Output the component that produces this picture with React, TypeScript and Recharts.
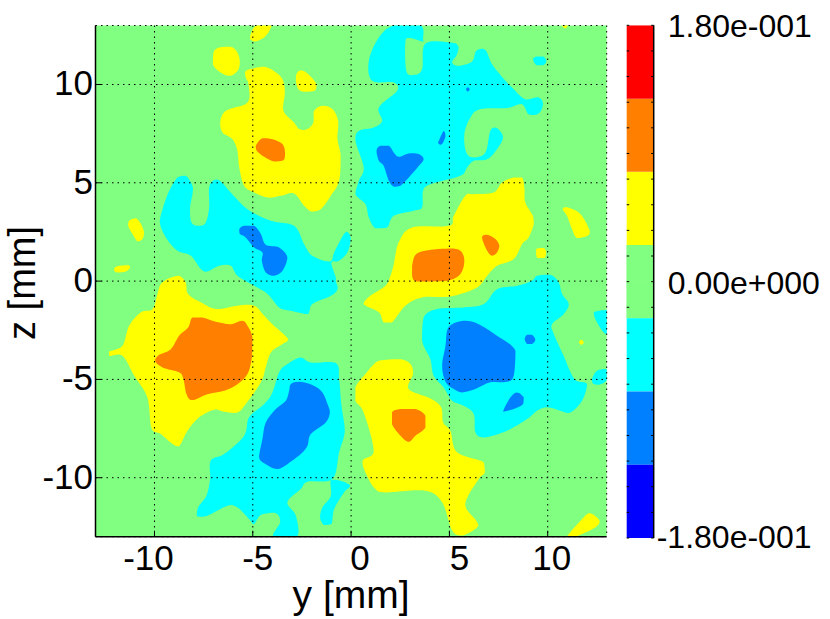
import React from 'react';
import { ScatterChart, BarChart, Bar, Scatter, XAxis, YAxis, CartesianGrid, ReferenceArea } from 'recharts';

type P = [number, number];
const FONT = '"Liberation Sans", Arial, sans-serif';
const YELLOW = '#ffff00', ORANGE = '#ff8000', CYAN = '#00ffff', AZURE = '#0080ff', GREEN = '#80ff80';

const axisTicks = [-10, -5, 0, 5, 10];
const colorStepUp = [0.0257, 0.0514, 0.0514, 0.0515];
const colorStepDown = [-0.0257, -0.0514, -0.0514, -0.0515];
const colorsUp = [GREEN, YELLOW, ORANGE, '#ff0000'];
const colorsDown = [GREEN, CYAN, AZURE, '#0000ff'];
const colorTicks = [-0.18, -0.162, -0.144, -0.126, -0.108, -0.09, -0.072, -0.054, -0.036, -0.018, 0, 0.018, 0.036, 0.054, 0.072, 0.09, 0.108, 0.126, 0.144, 0.162, 0.18];
const colorLabels: Record<string, string> = { '-0.18': '-1.80e-001', '0': '0.00e+000', '0.18': '1.80e-001' };

const yellowTop: P[] = [[-4.81,13],[-4.05,13],[-4.34,12.47],[-4.85,12.19],[-5.14,12.31],[-5.1,12.59]];
const yellowBlobA: P[] = [[-7,11.63],[-6.71,11.88],[-6.12,11.92],[-5.78,11.63],[-5.66,11.12],[-5.78,10.69],[-6.2,10.44],[-6.71,10.66],[-7.03,11.03]];
const yellowBlobB: P[] = [[-2.78,10.53],[-2.56,10.73],[-2.22,10.56],[-1.76,10.02],[-1.85,9.68],[-2.39,9.63],[-2.68,9.76],[-2.81,10.19]];
const yellowUpperLeft: P[] = [[-5.36,10.69],[-4.93,10.83],[-4.42,10.9],[-3.92,10.69],[-3.49,10.27],[-3.37,9.59],[-3.44,8.66],[-2.9,8.07],[-2.64,7.73],[-2.22,7.73],[-1.92,8.07],[-1.88,8.66],[-1.46,8.92],[-0.95,8.75],[-0.66,8.15],[-0.69,7.22],[-0.53,6.37],[-0.61,5.1],[-1.03,4.34],[-1.54,3.66],[-2.02,3.54],[-2.39,3.83],[-2.9,4.46],[-3.58,4.34],[-4.25,4.25],[-4.93,4.51],[-5.44,4.85],[-5.69,5.78],[-5.78,6.63],[-6.03,7.22],[-6.54,7.56],[-6.66,8.07],[-6.37,8.66],[-5.27,9.08],[-5.22,10.02],[-5.36,10.36]];
const yellowSmallC: P[] = [[-11.29,3.07],[-10.95,3.2],[-10.69,2.9],[-10.53,2.47],[-10.61,2.14],[-10.86,2.02],[-11.12,2.39],[-11.34,2.81]];
const yellowSmallD: P[] = [[-12.05,0.66],[-11.8,0.78],[-11.29,0.81],[-11.24,0.66],[-11.46,0.49],[-11.88,0.44],[-12.05,0.53]];
const yellowLowerLeft: P[] = [[-9.68,-0.15],[-9.25,0.14],[-8.75,0.27],[-8.41,-0.07],[-8.29,-0.66],[-7.64,-1.08],[-6.88,-1.42],[-5.78,-1.25],[-4.93,-1.25],[-4.42,-1.76],[-4,-2.19],[-3.2,-2.95],[-3.49,-3.2],[-4.08,-3.63],[-4.34,-4.39],[-4.59,-5.15],[-5.36,-6.25],[-5.78,-6.68],[-6.46,-6.64],[-6.97,-6.54],[-7.73,-6.93],[-8.32,-7.61],[-8.75,-8.41],[-9.08,-8.29],[-9.68,-7.78],[-10.15,-7.49],[-10.36,-5.92],[-11.03,-4.81],[-11.63,-3.8],[-12.31,-3.8],[-12.31,-3.59],[-11.63,-3.29],[-11.29,-2.27],[-10.69,-1.59],[-10.1,-1.42],[-9.85,-0.66]];
const yellowCentre: P[] = [[7.68,5.02],[8.27,5.27],[8.69,5.27],[8.81,4.76],[8.86,4],[9.25,3.32],[9.29,2.9],[9.03,2.22],[8.69,1.88],[8.27,1.12],[7.42,0.78],[6.92,0.27],[6.41,-0.32],[5.05,-0.78],[3.61,-0.83],[2.76,-1.25],[2.08,-2.1],[1.66,-2.1],[1.41,-1.59],[0.64,-1.17],[0.98,-0.75],[1.75,-0.24],[2,0.27],[2.17,0.86],[2.42,1.97],[3.1,2.73],[4.97,2.81],[5.22,3.32],[5.81,4.34],[6.24,4.42],[7.25,4.51]];
const yellowRightA: P[] = [[10.76,3.66],[10.98,3.75],[11.66,3.41],[12.14,2.56],[12.03,2.31],[11.49,2.19],[11.24,2.64],[10.98,3.32]];
const yellowRightB: P[] = [[9.41,1.63],[9.8,1.68],[9.92,1.46],[9.83,1.17],[9.49,1.17],[9.41,1.37]];
const yellowTopRight: P[] = [[10.73,13],[11.02,13],[10.9,12.85]];
const yellowDot: P[] = [[11.59,-3.12],[11.71,-2.98],[11.83,-3.12],[11.71,-3.24]];
const yellowCorner: P[] = [[10.98,-13],[11.83,-12.02],[12.17,-11.81],[12.64,-12.19],[12.42,-12.53],[11.41,-13]];
const yellowLowerCentre: P[] = [[1.41,-4.05],[2.51,-3.97],[3.02,-4.22],[3.15,-4.73],[2.93,-5.49],[4.03,-5.97],[4.58,-6.42],[4.68,-7.19],[5.05,-7.61],[5.39,-8.71],[6.75,-9.22],[6.8,-9.73],[6.49,-10.07],[5.81,-11.34],[6.37,-12.19],[6.41,-12.53],[5.64,-12.95],[5.14,-12.69],[4.63,-11.25],[3.78,-10.66],[1.75,-10.75],[1.24,-10.58],[0.81,-9.9],[0.59,-9.14],[1.15,-8.63],[0.64,-6.68],[0.22,-6.08],[0.22,-5.41],[0.73,-4.73]];

const orangeUpper: P[] = [[-4.85,6.88],[-4.51,7.27],[-4,7.22],[-3.49,6.97],[-3.36,6.54],[-3.41,6.17],[-3.92,6.08],[-4.42,6.32],[-4.8,6.63]];
const orangeLeft: P[] = [[-8.07,-1.85],[-7.56,-1.85],[-6.88,-2.07],[-6.12,-2.19],[-5.53,-2.02],[-5.27,-2.27],[-5.02,-2.86],[-5.05,-3.88],[-5.27,-4.73],[-5.78,-5.24],[-6.46,-5.58],[-7.31,-5.75],[-8.07,-6.05],[-8.37,-5.75],[-8.53,-4.98],[-8.75,-4.64],[-9.59,-4.39],[-9.97,-4.05],[-9.76,-3.75],[-9.17,-3.46],[-8.75,-2.78],[-8.29,-2.36]];
const orangeCentre: P[] = [[3.1,0.78],[3.44,1.46],[4.97,1.66],[5.56,1.54],[5.76,1.03],[5.56,0.36],[4.88,0.02],[3.36,-0.02],[3.1,0.27]];
const orangeCentreSmall: P[] = [[6.66,2.22],[6.92,2.36],[7.34,2.14],[7.54,1.8],[7.42,1.46],[7.17,1.29],[6.92,1.54]];
const orangeLower: P[] = [[2.08,-6.68],[2.51,-6.51],[3.27,-6.51],[3.78,-6.85],[3.78,-7.44],[3.27,-7.86],[2.93,-8.17],[2.51,-7.86],[2.08,-7.27]];

const cyanLeft: P[] = [[-8.83,5.27],[-8.41,5.36],[-8.07,4.85],[-8.07,4.42],[-8.19,3.75],[-8.12,2.98],[-7.73,2.81],[-7.39,2.98],[-7.22,3.75],[-7.22,4.76],[-6.97,5.14],[-6.63,5.07],[-6.12,4.51],[-5.27,3.66],[-4.08,3.07],[-2.9,2.81],[-2.39,1.88],[-1.97,1.29],[-1.08,1],[-0.86,1.46],[-0.36,2.39],[-0.15,2.47],[-0.02,2.14],[-0.19,1.46],[-0.61,1.03],[-1,0.95],[-0.78,0.19],[-0.78,0],[-0.69,-0.41],[-1.03,-0.75],[-1.97,-1.17],[-2.22,-1.68],[-3.07,-1.51],[-3.66,-1.34],[-4.25,-0.66],[-4.93,-0.24],[-5.78,0.27],[-6.12,0.78],[-6.71,0.78],[-7.31,0.49],[-7.64,0.61],[-8.15,1.29],[-8.83,1.54],[-9.42,2.22],[-9.73,2.98],[-9.59,3.66],[-9.25,4.59]];
const cyanLowerLeft: P[] = [[-2.56,-3.88],[-2.05,-4.14],[-0.78,-4.17],[-0.61,-4.98],[-0.49,-6.34],[-0.32,-7.61],[-0.61,-8.71],[-0.95,-10.07],[-2.22,-10.2],[-2.56,-10.58],[-3.24,-11.25],[-2.81,-11.93],[-2.76,-13],[-3.95,-13],[-3.61,-12.27],[-3.83,-11.81],[-4.59,-11.9],[-4.93,-12.36],[-5.19,-12.1],[-5.78,-11.51],[-6.29,-11.42],[-7.31,-11.93],[-7.85,-11.93],[-7.78,-11.51],[-7.36,-10.92],[-7.17,-10.07],[-7.14,-9.14],[-6.46,-8.8],[-5.44,-7.86],[-5.19,-6.93],[-4.42,-6.25],[-4,-5.66],[-3.66,-4.64],[-3.24,-4.22]];
const cyanLowerLobe: P[] = [[-1.03,-10.1],[-0.53,-10.15],[-0.05,-10.41],[-0.36,-10.75],[-0.86,-11.59],[-1,-12.36],[-1.37,-12.41],[-1.58,-12.02],[-1.46,-11.51],[-1.03,-10.92]];
const cyanUpper: P[] = [[2.17,13],[3.53,13],[3.66,12.31],[3.61,12.19],[2.98,12.36],[2.76,12.14],[2.81,10.69],[3.19,10.49],[3.61,10.78],[3.78,12.08],[5.05,12.14],[5.44,11.97],[5.39,11.54],[5.14,11.12],[5.47,10.95],[6.15,11.17],[6.37,11.71],[6.83,11.75],[7.17,11.03],[7.85,10.19],[8.27,9.76],[8.86,9.25],[9.54,9.34],[9.76,9],[9.54,8.53],[9.03,8.49],[8.69,9],[7.93,8.8],[6.58,8.75],[6.07,8.32],[5.76,7.47],[5.86,6.54],[6.24,6.29],[6.83,6.54],[7.08,7.64],[7.42,7.78],[7.73,7.31],[7.42,6.71],[6.92,6.2],[6.24,6.12],[5.9,5.78],[5.56,5.36],[4.03,4.93],[3.66,4.59],[3.61,3.75],[3.19,3.58],[2.17,3.32],[1.83,2.73],[1.24,2.69],[0.9,3.24],[0.73,3.92],[0.22,4.42],[0.39,5.1],[0.64,5.78],[0.22,7.14],[0.39,7.64],[1.15,7.81],[1.58,8.15],[1.41,8.83],[2.34,9.68],[2.17,10.1],[1.07,10.19],[0.9,11.2],[1.41,12.39]];
const cyanUpperDot: P[] = [[9.25,11.29],[9.46,11.42],[9.8,11.41],[9.93,11.17],[9.76,10.98],[9.42,10.98]];
const cyanRight: P[] = [[9.46,0.27],[10.14,0.32],[10.56,-0.07],[10.73,-0.66],[11.07,-1.17],[10.81,-1.68],[10.22,-2.19],[10.31,-2.69],[10.81,-3.8],[11.36,-4.98],[12,-5.24],[11.75,-6.08],[11.15,-6.68],[10.64,-6.59],[9.97,-6.42],[9.46,-6.59],[8.95,-7.02],[7.93,-7.61],[6.75,-7.95],[6.32,-7.69],[6.24,-6.76],[5.73,-6.34],[5.14,-6.08],[4.71,-5.41],[4.2,-4.81],[4.03,-3.97],[3.61,-3.03],[3.69,-1.85],[4.37,-1.42],[5.73,-1.34],[6.75,-1.17],[7.42,-0.41],[8.44,-0.24],[9.2,0.02]];
const cyanEdgeA: P[] = [[12.34,-1.59],[13,-1.47],[13,-2.73],[12.71,-2.44],[12.42,-1.93]];
const cyanEdgeB: P[] = [[12.25,-4.98],[12.51,-4.56],[13,-4.47],[13,-5.03],[12.59,-5.27],[12.29,-5.19]];

const azureLeft: P[] = [[-5.69,2.64],[-5.44,2.81],[-4.93,2.81],[-4.59,2.39],[-4.34,1.85],[-3.66,1.71],[-3.24,1.2],[-3.49,0.53],[-3.92,0.27],[-4.34,0.44],[-4.54,1.03],[-4.51,1.46],[-4.93,1.71],[-5.36,2.22],[-5.66,2.39]];
const azureLowerLeft: P[] = [[-3.07,-5.24],[-2.64,-5.12],[-1.97,-5.29],[-1.46,-5.66],[-1.2,-6.25],[-1.08,-6.68],[-1.29,-7.19],[-2.05,-7.78],[-2.22,-8.37],[-2.56,-8.8],[-3.24,-9.31],[-3.75,-9.56],[-4.25,-9.36],[-4.68,-8.97],[-4.51,-8.03],[-4.34,-7.19],[-3.83,-6.51],[-3.32,-6.08],[-3.15,-5.58]];
const azureDotTop: P[] = [[5.85,9.76],[5.93,9.86],[6.03,9.76],[5.93,9.64]];
const azureSliver: P[] = [[4.46,7.14],[4.71,7.64],[4.8,7.39],[4.68,7.05],[4.54,6.93],[4.42,7.05]];
const azureHeart: P[] = [[1.29,6.63],[1.49,6.88],[1.92,6.88],[2.17,6.54],[2.42,6.32],[2.93,6.49],[3.44,6.46],[3.69,6.2],[3.44,5.86],[2.93,5.27],[2.51,4.85],[2.17,4.8],[1.92,5.1],[1.66,5.86],[1.41,6.12]];
const azureRight: P[] = [[4.88,-2.53],[5.14,-2.19],[5.81,-2.02],[6.49,-2.19],[7.42,-2.78],[8.36,-3.54],[8.27,-4.81],[7.93,-5.12],[7.08,-5.15],[6.32,-5.49],[5.64,-5.66],[5.22,-5.49],[4.8,-5.12],[4.63,-4.31],[4.8,-3.29]];
const azureRightDot: P[] = [[8.83,-2.95],[8.95,-2.73],[9.2,-2.73],[9.37,-2.98],[9.2,-3.2],[8.95,-3.2]];
const azureRightDrop: P[] = [[7.73,-6.64],[8.1,-5.92],[8.44,-5.66],[8.78,-5.92],[8.75,-6.25],[8.27,-6.51]];

const regions: [string, P[]][] = [
  [YELLOW, yellowTop], [YELLOW, yellowBlobA], [YELLOW, yellowBlobB], [YELLOW, yellowUpperLeft], [YELLOW, yellowSmallC], [YELLOW, yellowSmallD],
  [YELLOW, yellowLowerLeft], [YELLOW, yellowCentre], [YELLOW, yellowRightA], [YELLOW, yellowRightB], [YELLOW, yellowTopRight], [YELLOW, yellowDot],
  [YELLOW, yellowCorner], [YELLOW, yellowLowerCentre],
  [ORANGE, orangeUpper], [ORANGE, orangeLeft], [ORANGE, orangeCentre], [ORANGE, orangeCentreSmall], [ORANGE, orangeLower],
  [CYAN, cyanLeft], [CYAN, cyanLowerLeft], [CYAN, cyanLowerLobe], [CYAN, cyanUpper], [CYAN, cyanUpperDot], [CYAN, cyanRight], [CYAN, cyanEdgeA], [CYAN, cyanEdgeB],
  [AZURE, azureLeft], [AZURE, azureLowerLeft], [AZURE, azureDotTop], [AZURE, azureSliver], [AZURE, azureHeart], [AZURE, azureRight], [AZURE, azureRightDot], [AZURE, azureRightDrop],
];

const colorRow: Record<string, number | string> = { c: 'bar' };
colorStepUp.forEach((v, i) => { colorRow['u' + i] = v; });
colorStepDown.forEach((v, i) => { colorRow['d' + i] = v; });

const TICK_SIZE = 35;
const LABEL_SIZE = 38;
const xLabelShift: Record<number, number> = { [-10]: -6, [-5]: 5, 0: 9, 5: 10, 10: 4 };

const XTick = (p: any) => (
  <text x={p.x + xLabelShift[p.payload.value]} y={p.y + 33.5} textAnchor="middle" fontSize={TICK_SIZE} fontFamily={FONT} fill="#000">
    {String(p.payload.value)}
  </text>
);
const YTick = (p: any) => (
  <text x={p.x - 2.5} y={p.y + 11} textAnchor="end" fontSize={TICK_SIZE} fontFamily={FONT} fill="#000">
    {String(p.payload.value)}
  </text>
);
const ZLabel = () => (
  <text x={34.5} y={283} transform="rotate(-90 34.5 283)" textAnchor="middle" fontSize={LABEL_SIZE} fontFamily={FONT} fill="#000">
    z [mm]
  </text>
);
const ColorTick = (p: any) => {
  const v = p.payload.value as number;
  const label = colorLabels[String(v)];
  return (
    <g>
      <line x1={p.x - 2.5} x2={p.x} y1={p.y} y2={p.y} stroke="#000" />
      <line x1={p.x - 27} x2={p.x - 24.5} y1={p.y} y2={p.y} stroke="#000" />
      {label ? (
        <text x={p.x + (v < 0 ? 3 : 14)} y={p.y + (v < 0 ? 10 : 12)} fontSize={32} fontFamily={FONT} fill="#000">
          {label}
        </text>
      ) : null}
    </g>
  );
};

// Closed Catmull-Rom outline through the points the chart's scales produced.
const smoothClosed = (pts: { x: number; y: number }[]) => {
  const n = pts.length;
  const xs = pts.map((q) => q.x), ys = pts.map((q) => q.y);
  const cx = (v: number) => Math.min(Math.max(...xs), Math.max(Math.min(...xs), v));
  const cy = (v: number) => Math.min(Math.max(...ys), Math.max(Math.min(...ys), v));
  let d = `M${pts[0].x},${pts[0].y}`;
  for (let i = 0; i < n; i++) {
    const a = pts[(i - 1 + n) % n], b = pts[i], c = pts[(i + 1) % n], e = pts[(i + 2) % n];
    d += `C${cx(b.x + (c.x - a.x) / 6)},${cy(b.y + (c.y - a.y) / 6)} ${cx(c.x - (e.x - b.x) / 6)},${cy(c.y - (e.y - b.y) / 6)} ${c.x},${c.y}`;
  }
  return d + 'Z';
};

const frame = { stroke: '#000', strokeWidth: 1.5 };
const tickStroke = { stroke: '#000' };

export default function App() {
  return (
    <div style={{ position: 'absolute', left: 0, top: 0, width: 830, height: 619, background: '#fff', overflow: 'hidden' }}>
      <div style={{ position: 'absolute', left: 0, top: 0 }}>
        <ScatterChart width={830} height={619} margin={{ top: 25.5, right: 223.3, bottom: 0, left: 0 }}>
          <ReferenceArea x1={-13} x2={13} y1={-13} y2={13} fill={GREEN} fillOpacity={1} stroke="none" />
          <XAxis type="number" dataKey="y" domain={[-13, 13]} ticks={axisTicks} interval={0} height={82.3} tickSize={-6} tickMargin={6}
            axisLine={frame} tickLine={tickStroke} tick={<XTick />} zIndex={1200}
            label={{ value: 'y [mm]', position: 'insideBottom', offset: 11, fontSize: 39, fontFamily: FONT, fill: '#000' }} />
          <YAxis type="number" dataKey="z" domain={[-13, 13]} ticks={axisTicks} interval={0} width={95.5} tickSize={-6} tickMargin={6}
            axisLine={frame} tickLine={tickStroke} tick={<YTick />} zIndex={1200}
            label={<ZLabel />} />
          <XAxis xAxisId="top" orientation="top" type="number" domain={[-13, 13]} ticks={axisTicks} interval={0} height={0} tickSize={-6} tick={false} axisLine={frame} tickLine={tickStroke} zIndex={1200} />
          <YAxis yAxisId="right" orientation="right" type="number" domain={[-13, 13]} ticks={axisTicks} interval={0} width={0} tickSize={-6} tick={false} axisLine={frame} tickLine={tickStroke} zIndex={1200} />
          {regions.map(([color, pts], i) => (
            <Scatter key={i} data={pts.map(([y, z]) => ({ y, z }))} fill={color} isAnimationActive={false}
              line={(lp: any) => <path key="outline" d={smoothClosed(lp.points)} fill={color} stroke="none" />} shape={() => <g />} />
          ))}
          <CartesianGrid stroke="#000" strokeDasharray="1.5 4" zIndex={1100} />
        </ScatterChart>
      </div>
      <div style={{ position: 'absolute', left: 600, top: 0 }}>
        <BarChart width={230} height={619} data={[colorRow]} stackOffset="sign" barCategoryGap={0} margin={{ top: 25.3, right: 0, bottom: 81, left: 26.7 }}>
          <XAxis dataKey="c" hide />
          <YAxis orientation="right" type="number" domain={[-0.18, 0.18]} allowDataOverflow ticks={colorTicks} interval={0} width={176.3} tickSize={0} tickMargin={0} tickLine={false} axisLine={frame} tick={<ColorTick />} zIndex={1200} />
          {colorsUp.map((c, i) => (
            <Bar key={'u' + i} dataKey={'u' + i} stackId="cb" fill={c} stroke={i === 0 ? c : 'none'} strokeWidth={0.5} isAnimationActive={false} />
          ))}
          {colorsDown.map((c, i) => (
            <Bar key={'d' + i} dataKey={'d' + i} stackId="cb" fill={c} stroke={i === 0 ? c : 'none'} strokeWidth={0.5} isAnimationActive={false} />
          ))}
        </BarChart>
      </div>
    </div>
  );
}
